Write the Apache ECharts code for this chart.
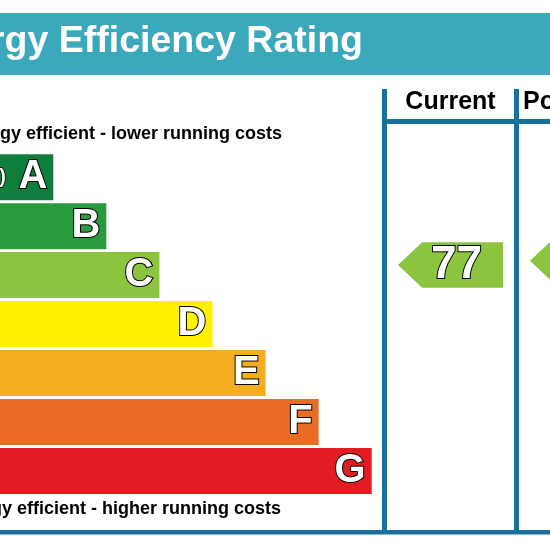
<!DOCTYPE html>
<html>
<head>
<meta charset="utf-8">
<script src="https://cdn.jsdelivr.net/npm/echarts@6/dist/echarts.min.js"></script>
<style>
html,body{margin:0;padding:0;background:#fff;}
#chart{width:550px;height:550px;}
</style>
</head>
<body>
<div id="chart"></div>
<script>
// ---- data ----
var categories = ['A', 'B', 'C', 'D', 'E', 'F', 'G'];
var barLengths = [25, 35, 45, 55, 65, 75, 85];
var bandLabels = ['(92 plus)', '(81-91)', '(69-80)', '(55-68)', '(39-54)', '(21-38)', '(1-20)'];
var bandMin = [92, 81, 69, 55, 39, 21, 1];
var bandMax = [100, 91, 80, 68, 54, 38, 20];
var barColors = ['#0f7d3c', '#2a9b3d', '#8cc43f', '#fff100', '#f4ad1f', '#ea6b24', '#e31c24'];
var currentRating = 77;
var potentialRating = 78;
var columnHeaders = ['Current', 'Potential'];
var titleText = 'Energy Efficiency Rating';
var topNote = 'Very energy efficient - lower running costs';
var bottomNote = 'Not energy efficient - higher running costs';

var FONT = '"Liberation Sans", Arial, Helvetica, sans-serif';
var LINE = '#17719c';

function bandIndexOf(r) {
  for (var i = 0; i < bandMin.length; i++) {
    if (r >= bandMin[i] && r <= bandMax[i]) return i;
  }
  return bandMin.length - 1;
}

function arrowItem(params, api) {
  var idx = api.value(1);
  var rating = api.value(2);
  var c0 = api.coord([0, idx]);
  var c1 = api.coord([1, idx]);
  var bandH = api.size([0, 1])[1];
  var offset = (rating - (bandMin[idx] + bandMax[idx]) / 2) / (bandMax[idx] - bandMin[idx] + 1) * bandH;
  var yc = c0[1] - offset;
  var h = bandH * 0.93;
  var tip = h * 0.53;
  var x0 = c0[0], x1 = c1[0];
  var pts = [[x0, yc], [x0 + tip, yc - h / 2], [x1, yc - h / 2], [x1, yc + h / 2], [x0 + tip, yc + h / 2]];
  return {
    type: 'group',
    children: [
      { type: 'polygon', shape: { points: pts }, style: { fill: barColors[idx] } },
      { type: 'text', style: {
          text: String(rating), x: (x0 + tip / 2 + x1) / 2, y: yc,
          fill: '#fff', stroke: '#000', lineWidth: 2,
          font: 'bold 46px ' + FONT,
          textAlign: 'center', textVerticalAlign: 'middle', align: 'center', verticalAlign: 'middle'
      } }
    ]
  };
}

var chart = echarts.init(document.getElementById('chart'), null, { renderer: 'canvas' });

var gridTop = 152.7, gridH = 342.7;

function txt(text, x, y, size, align, fill) {
  return { type: 'text', z: 10, style: {
    text: text, x: x, y: y, fill: fill || '#000',
    font: 'bold ' + size + 'px ' + FONT,
    textAlign: align, textVerticalAlign: 'middle', align: align, verticalAlign: 'middle'
  } };
}

var option = {
  backgroundColor: '#fff',
  animation: false,
  grid: [
    { left: -79.4, top: gridTop, width: 583.8, height: gridH, outerBoundsMode: 'none', containLabel: false },
    { left: 398, top: gridTop, width: 105, height: gridH, outerBoundsMode: 'none', containLabel: false },
    { left: 530, top: gridTop, width: 105, height: gridH, outerBoundsMode: 'none', containLabel: false }
  ],
  xAxis: [
    { gridIndex: 0, type: 'value', min: 0, max: 110, show: false },
    { gridIndex: 1, type: 'value', min: 0, max: 1, show: false },
    { gridIndex: 2, type: 'value', min: 0, max: 1, show: false }
  ],
  yAxis: [
    { gridIndex: 0, type: 'category', data: categories, inverse: true, show: false },
    { gridIndex: 1, type: 'category', data: categories, inverse: true, show: false },
    { gridIndex: 2, type: 'category', data: categories, inverse: true, show: false }
  ],
  series: [
    {
      type: 'bar', xAxisIndex: 0, yAxisIndex: 0, barWidth: 46, barGap: '-100%',
      data: barLengths.map(function (v, i) { return { value: v, itemStyle: { color: barColors[i] } }; }),
      label: {
        show: true, position: 'insideRight', distance: 6, formatter: '{b}',
        fontSize: 40, fontWeight: 'bold', fontFamily: FONT, color: '#fff',
        textBorderColor: '#000', textBorderWidth: 2
      }
    },
    {
      type: 'bar', xAxisIndex: 0, yAxisIndex: 0, barWidth: 46, barGap: '-100%',
      itemStyle: { color: 'rgba(0,0,0,0)' },
      data: barLengths,
      label: {
        show: true, position: 'insideLeft', distance: 3,
        formatter: function (p) { return bandLabels[p.dataIndex]; },
        fontSize: 20, fontWeight: 'bold', fontFamily: FONT, color: '#fff',
        textBorderColor: '#000', textBorderWidth: 1.5
      }
    },
    {
      type: 'custom', xAxisIndex: 1, yAxisIndex: 1, renderItem: arrowItem,
      encode: { x: 0, y: 1 },
      data: [[0, bandIndexOf(currentRating), currentRating]]
    },
    {
      type: 'custom', xAxisIndex: 2, yAxisIndex: 2, renderItem: arrowItem,
      encode: { x: 0, y: 1 },
      data: [[0, bandIndexOf(potentialRating), potentialRating]]
    }
  ],
  graphic: [
    { type: 'rect', shape: { x: 0, y: 13, width: 550, height: 62 }, style: { fill: '#3ba8bc' } },
    txt(titleText, 363, 42, 37.5, 'right', '#fff'),
    txt(topNote, 282, 134.5, 18, 'right'),
    txt(bottomNote, 281, 509, 18, 'right'),
    txt(columnHeaders[0], 450.5, 102, 25, 'center'),
    txt(columnHeaders[1], 523, 102, 25, 'left'),
    { type: 'rect', z: 5, shape: { x: 382, y: 89, width: 5, height: 445 }, style: { fill: LINE } },
    { type: 'rect', z: 5, shape: { x: 514, y: 89, width: 5, height: 445 }, style: { fill: LINE } },
    { type: 'rect', z: 5, shape: { x: 382, y: 119, width: 168, height: 5 }, style: { fill: LINE } },
    { type: 'rect', z: 5, shape: { x: 0, y: 530, width: 550, height: 4.5 }, style: { fill: LINE } }
  ]
};
chart.setOption(option);
</script>
</body>
</html>
